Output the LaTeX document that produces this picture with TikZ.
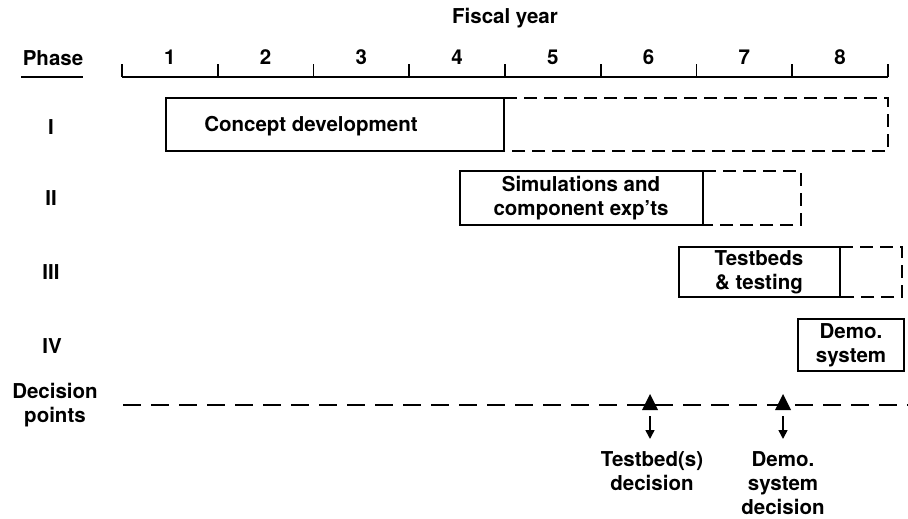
\documentclass[tikz,border=0pt]{standalone}
\usepackage{fontspec}
\setmainfont{TeX Gyre Heros}
\usetikzlibrary{arrows.meta,calc}
\begin{document}
\begin{tikzpicture}[x=1pt,y=-1pt,
  txt/.style={font=\fontsize{20.5}{24}\selectfont\bfseries, inner sep=0pt, align=center},
  solidbox/.style={draw, line width=1.8pt},
  dashbox/.style={draw, line width=1.8pt, dash pattern=on 13pt off 7pt},
  axisline/.style={line width=1.8pt},
  declinestyle/.style={line width=2pt, dash pattern=on 18pt off 10pt},
  tri/.style={fill=black, draw=none},
  downarrow/.style={line width=1.6pt, -{Triangle[length=9pt,width=9pt]}}
]
\useasboundingbox (0,0) rectangle (908,519);
% title
\node[txt] (fy) at (505,18) {Fiscal year};
\node[txt] (phase) at (53,58) {Phase};
\draw[axisline] (21,77) -- (83,77);
% axis
\foreach \i in {0,...,8} {
  \coordinate (t\i) at ({122+95.75*\i},77);
  \coordinate (u\i) at ({122+95.75*\i},64);
}
\draw[axisline] (t0) -- (t8);
\foreach \i in {0,...,8} { \draw[axisline] (t\i) -- (u\i); }
\foreach \i in {1,...,8} {
  \node[txt] (n\i) at ({122+95.75*\i-47.875},57) {\i};
}
% phase labels
\node[txt] (p1) at (51,127) {I};
\node[txt] (p2) at (51,198) {II};
\node[txt] (p3) at (51,272) {III};
\node[txt] (p4) at (52,346) {IV};
\node[txt] (dp) at (55,405) {Decision\\points};
% Phase I
\draw[dashbox] (504,98) -- (888,98) -- (888,151) -- (504,151);
\draw[solidbox] (166,98) rectangle (504,151);
\node[txt] (b1) at (311,126) {Concept development};
% Phase II
\draw[dashbox] (703,171) -- (801,171) -- (801,225) -- (703,225);
\draw[solidbox] (460,171) rectangle (703,225);
\node[txt] (b2) at (581,198) {Simulations and\\component exp'ts};
% Phase III
\draw[dashbox] (840,247) -- (902,247) -- (902,297) -- (840,297);
\draw[solidbox] (679,247) rectangle (840,297);
\node[txt] (b3) at (759,272) {Testbeds\\\& testing};
% Phase IV
\draw[solidbox] (798,319) rectangle (904,371);
\node[txt] (b4) at (851,345) {Demo.\\system};
% decision line
\coordinate (dl0) at (123,405);
\coordinate (dl1) at (908,405);
\draw[declinestyle] (dl0) -- (dl1);
% triangles
\coordinate (tr1) at (650,403);
\coordinate (tr2) at (783,403);
\foreach \c in {tr1,tr2} {
  \fill[tri] ($(\c)+(-8,7)$) -- ($(\c)+(8,7)$) -- ($(\c)+(0,-9)$) -- cycle;
}
\node[txt] (d1) at (652,471) {Testbed(s)\\decision};
\node[txt] (d2) at (783,483) {Demo.\\system\\decision};
\coordinate (a1s) at (650,416);
\coordinate (a1e) at (650,439);
\coordinate (a2s) at (783,416);
\coordinate (a2e) at (783,439);
\draw[downarrow] (a1s) -- (a1e);
\draw[downarrow] (a2s) -- (a2e);
\end{tikzpicture}
\end{document}
